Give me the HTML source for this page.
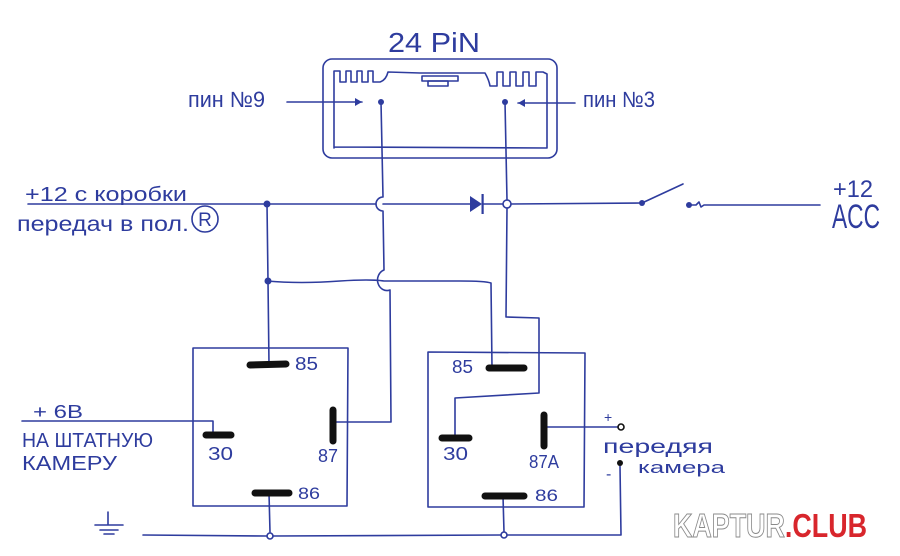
<!DOCTYPE html>
<html>
<head>
<meta charset="utf-8">
<style>
html,body{margin:0;padding:0;background:#fff;}
svg{display:block;}
text{font-family:"Liberation Sans","DejaVu Sans",sans-serif;}
</style>
</head>
<body>
<svg width="900" height="556" viewBox="0 0 900 556" xmlns="http://www.w3.org/2000/svg">
<rect width="900" height="556" fill="#ffffff"/>
<g fill="none" stroke="#2e3c9e" stroke-width="1.6" stroke-linecap="round" stroke-linejoin="round">
  <!-- connector outer -->
  <rect x="323" y="59" width="234" height="99" rx="9"/>
  <!-- connector inner with teeth -->
  <path d="M334,148 L334,71 L340,71 L340,82 L346,82 L346,71 L351,71 L351,82 L357,82 L357,71 L362,71 L362,82 L368,82 L368,71 L373,71 L373,82 L380,82 Q386,80 388,72 L420,73 L485,73 Q489,80 490,86 L497,86 L497,72 L503,72 L503,86 L510,86 L510,72 L516,72 L516,86 L523,86 L523,72 L529,72 L529,86 L536,86 L536,72 L543,72 L547,74 L547,148 L334,147"/>
  <rect x="422" y="76" width="36" height="5"/>
  <rect x="428" y="81" width="20" height="5"/>
  <!-- arrows -->
  <path d="M287,102 L362,102"/>
  <path d="M575,103 L518,103"/>
  <!-- pin9 wire with hops -->
  <path d="M381,102 L383,197 A7,7 0 0 0 383,211 L384,270 A9,10 0 0 0 390,290 L391,422 L335,422"/>
  <!-- main horizontal -->
  <path d="M28,204 L376,204"/>
  <path d="M383,204 L470,204"/>
  <path d="M483,204 L503,204"/>
  <path d="M511,204 L642,203"/>
  <!-- switch -->
  <path d="M642,203 L683,184"/>
  <path d="M689,205 L696,205 L699,202 L701,207 L704,205 L820,205"/>
  <!-- left junction vertical -->
  <path d="M267,204 L268,281 L269,365"/>
  <!-- horizontal 281 -->
  <path d="M267,281 Q300,284 340,281 Q370,279 384,281 L460,281 Q485,281 491,283 L492,368"/>
  <!-- pin3 wire -->
  <path d="M505,102 L507,200 M507,208 L506,317 L539,318 L539,393 L455,398 L455,437"/>
  <!-- left relay box -->
  <path d="M193,348 L348,348 L347,506 L193,506 Z"/>
  <!-- right relay box -->
  <path d="M428,352 L585,353 L584,507 L428,507 Z"/>
  <!-- left 30 wire -->
  <path d="M22,421 L213,421 L213,433"/>
  <!-- 86 left down -->
  <path d="M269,493 L270,532"/>
  <!-- right 86 down -->
  <path d="M503,496 L504,532"/>
  <!-- ground line -->
  <path d="M143,535 L267,536 M273,536 L501,535 M507,535 L621,535 L620,466"/>
  <!-- 87A to + -->
  <path d="M544,427 L618,427"/>
  <!-- ground symbol -->
  <path d="M108,512 L108,525 M95,525 L123,525 M100,530 L118,530 M104,534 L114,534"/>
  <!-- circles -->
  <circle cx="507" cy="204" r="4"/>
  <circle cx="270" cy="536" r="3"/>
  <circle cx="504" cy="535" r="3"/>
  <circle cx="621" cy="427" r="3" stroke="#111"/>
  <circle cx="205" cy="219" r="13"/>
</g>
<!-- filled bits -->
<g fill="#2e3c9e">
  <path d="M362,102 L355,98 L355,106 Z"/>
  <path d="M518,103 L525,99 L525,107 Z"/>
  <circle cx="381" cy="102" r="3"/>
  <circle cx="505" cy="102" r="3"/>
  <circle cx="267" cy="204" r="3.5"/>
  <circle cx="268" cy="281" r="3.5"/>
  <path d="M470,196 L482,204 L470,212 Z"/>
  <rect x="481.5" y="194" width="2.2" height="20"/>
  <circle cx="642" cy="203" r="3"/>
  <circle cx="689" cy="205" r="3"/>
</g>
<circle cx="620" cy="463" r="3" fill="#111"/>
<!-- relay pins -->
<g stroke="#111" stroke-width="7" stroke-linecap="round">
  <path d="M250,365 L286,364"/>
  <path d="M206,435 L231,435"/>
  <path d="M333,410 L333,441"/>
  <path d="M255,493 L289,493"/>
  <path d="M489,368 L524,368"/>
  <path d="M442,438 L469,438"/>
  <path d="M544,415 L544,446"/>
  <path d="M485,496 L524,496"/>
</g>
<!-- texts -->
<g fill="#2e3c9e">
  <text x="388" y="52" font-size="28" textLength="92" lengthAdjust="spacingAndGlyphs">24 PiN</text>
  <text x="188" y="107" font-size="22" textLength="77" lengthAdjust="spacingAndGlyphs">пин №9</text>
  <text x="583" y="107" font-size="22" textLength="72" lengthAdjust="spacingAndGlyphs">пин №3</text>
  <text x="25" y="201" font-size="20" textLength="162" lengthAdjust="spacingAndGlyphs">+12 с коробки</text>
  <text x="17" y="231" font-size="21" textLength="172" lengthAdjust="spacingAndGlyphs">передач в пол.</text>
  <text x="205" y="226" font-size="19" text-anchor="middle">R</text>
  <text x="833" y="197" font-size="24" textLength="40" lengthAdjust="spacingAndGlyphs">+12</text>
  <text x="832" y="228" font-size="34" textLength="48" lengthAdjust="spacingAndGlyphs">ACC</text>
  <text x="33" y="418" font-size="18" textLength="50" lengthAdjust="spacingAndGlyphs">+ 6В</text>
  <text x="22" y="447" font-size="20" textLength="131" lengthAdjust="spacingAndGlyphs">НА ШТАТНУЮ</text>
  <text x="22" y="470" font-size="20" textLength="95" lengthAdjust="spacingAndGlyphs">КАМЕРУ</text>
  <text x="295" y="370" font-size="18" textLength="23" lengthAdjust="spacingAndGlyphs">85</text>
  <text x="208" y="460" font-size="18" textLength="25" lengthAdjust="spacingAndGlyphs">30</text>
  <text x="318" y="462" font-size="18" textLength="20" lengthAdjust="spacingAndGlyphs">87</text>
  <text x="298" y="499" font-size="17" textLength="22" lengthAdjust="spacingAndGlyphs">86</text>
  <text x="452" y="373" font-size="18" textLength="21" lengthAdjust="spacingAndGlyphs">85</text>
  <text x="443" y="460" font-size="18" textLength="25" lengthAdjust="spacingAndGlyphs">30</text>
  <text x="529" y="468" font-size="18" textLength="30" lengthAdjust="spacingAndGlyphs">87A</text>
  <text x="535" y="501" font-size="17" textLength="23" lengthAdjust="spacingAndGlyphs">86</text>
  <text x="604" y="422" font-size="14">+</text>
  <text x="606" y="479" font-size="16">-</text>
  <text x="603" y="453" font-size="19" textLength="110" lengthAdjust="spacingAndGlyphs">передяя</text>
  <text x="638" y="473" font-size="17" textLength="87" lengthAdjust="spacingAndGlyphs">камера</text>
</g>
<!-- logo -->
<text x="673" y="537" font-size="33" font-weight="bold" textLength="194" lengthAdjust="spacingAndGlyphs"><tspan fill="#ffffff" stroke="#8a8a8a" stroke-width="1">KAPTUR</tspan><tspan fill="#d8262c">.CLUB</tspan></text>
</svg>
</body>
</html>
